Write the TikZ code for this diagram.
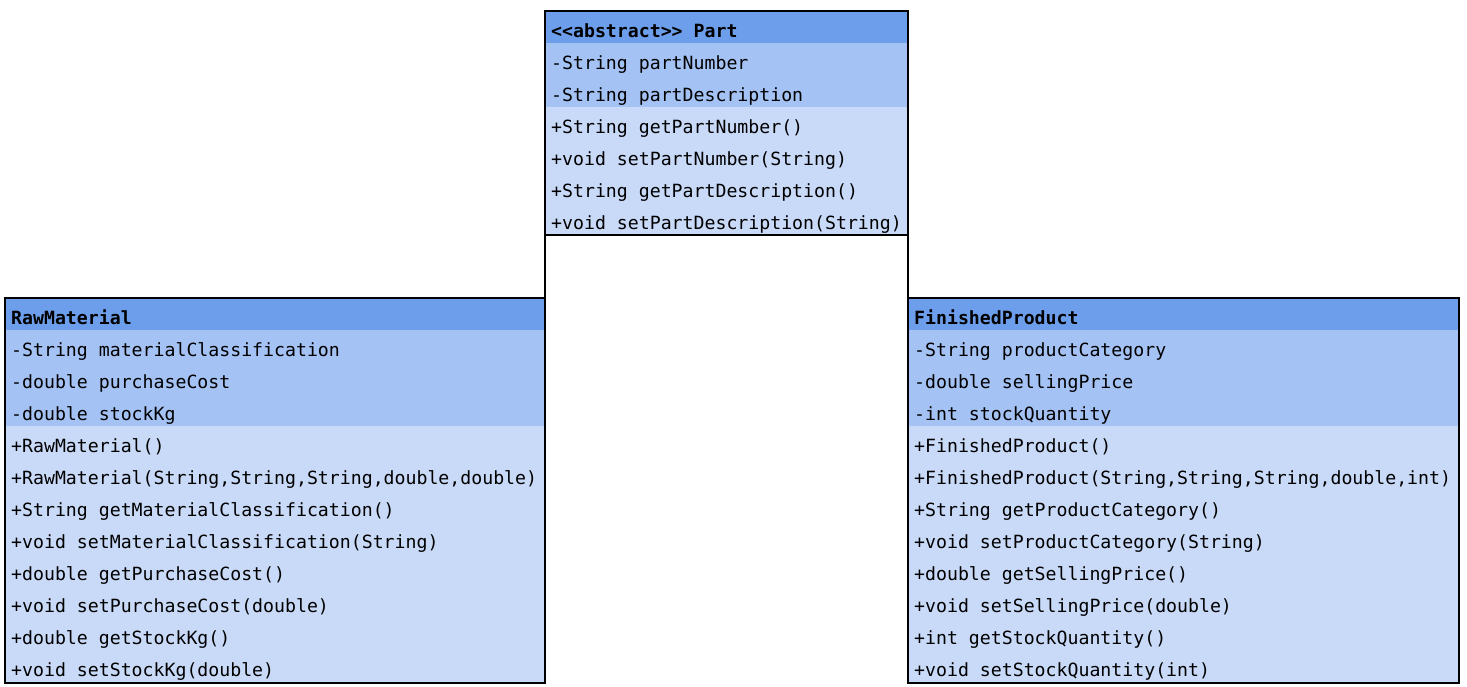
\documentclass[tikz,border=0pt]{standalone}
\usepackage{fontspec}
\setmonofont{DejaVu Sans Mono}
\definecolor{hdr}{HTML}{6D9EEB}
\definecolor{attr}{HTML}{A4C2F4}
\definecolor{meth}{HTML}{C9DAF8}
\begin{document}
\begin{tikzpicture}[x=1pt,y=-1pt,
  txt/.style={anchor=base west, inner sep=0pt, font=\fontsize{18.2}{20}\selectfont\ttfamily},
  htxt/.style={txt, font=\fontsize{18.2}{20}\selectfont\ttfamily\bfseries},
  classbox/.style={draw=black, line width=2pt, anchor=north west, inner sep=0pt, outer sep=0pt},
  link/.style={draw=black, line width=2pt}]
\useasboundingbox (0,0) rectangle (1467,686);
% ---------- Part ----------
\fill[hdr]  (545,11) rectangle (908,43);
\fill[attr] (545,43) rectangle (908,107);
\fill[meth] (545,107) rectangle (908,235);
\node[classbox, minimum width=363pt, minimum height=224pt] (part) at (545,11) {};
\node[htxt] (p0) at (551,37) {<<abstract>> Part};
\node[txt] (p1) at (551,69) {-String partNumber};
\node[txt] (p2) at (551,101) {-String partDescription};
\node[txt] (p3) at (551,133) {+String getPartNumber()};
\node[txt] (p4) at (551,165) {+void setPartNumber(String)};
\node[txt] (p5) at (551,197) {+String getPartDescription()};
\node[txt] (p6) at (551,229) {+void setPartDescription(String)};
% ---------- RawMaterial ----------
\fill[hdr]  (5,298) rectangle (545,330);
\fill[attr] (5,330) rectangle (545,426);
\fill[meth] (5,426) rectangle (545,683);
\node[classbox, minimum width=540pt, minimum height=385pt] (raw) at (5,298) {};
\node[htxt] (r0) at (11,324) {RawMaterial};
\node[txt] (r1) at (11,356) {-String materialClassification};
\node[txt] (r2) at (11,388) {-double purchaseCost};
\node[txt] (r3) at (11,420) {-double stockKg};
\node[txt] (r4) at (11,452) {+RawMaterial()};
\node[txt] (r5) at (11,484) {+RawMaterial(String,String,String,double,double)};
\node[txt] (r6) at (11,516) {+String getMaterialClassification()};
\node[txt] (r7) at (11,548) {+void setMaterialClassification(String)};
\node[txt] (r8) at (11,580) {+double getPurchaseCost()};
\node[txt] (r9) at (11,612) {+void setPurchaseCost(double)};
\node[txt] (r10) at (11,644) {+double getStockKg()};
\node[txt] (r11) at (11,676) {+void setStockKg(double)};
% ---------- FinishedProduct ----------
\fill[hdr]  (908,298) rectangle (1459,330);
\fill[attr] (908,330) rectangle (1459,426);
\fill[meth] (908,426) rectangle (1459,683);
\node[classbox, minimum width=551pt, minimum height=385pt] (fin) at (908,298) {};
\node[htxt] (f0) at (914,324) {FinishedProduct};
\node[txt] (f1) at (914,356) {-String productCategory};
\node[txt] (f2) at (914,388) {-double sellingPrice};
\node[txt] (f3) at (914,420) {-int stockQuantity};
\node[txt] (f4) at (914,452) {+FinishedProduct()};
\node[txt] (f5) at (914,484) {+FinishedProduct(String,String,String,double,int)};
\node[txt] (f6) at (914,516) {+String getProductCategory()};
\node[txt] (f7) at (914,548) {+void setProductCategory(String)};
\node[txt] (f8) at (914,580) {+double getSellingPrice()};
\node[txt] (f9) at (914,612) {+void setSellingPrice(double)};
\node[txt] (f10) at (914,644) {+int getStockQuantity()};
\node[txt] (f11) at (914,676) {+void setStockQuantity(int)};
% ---------- connectors ----------
\draw[link] (part.south west) -- (raw.north east);
\draw[link] (part.south east) -- (fin.north west);
\end{tikzpicture}
\end{document}
